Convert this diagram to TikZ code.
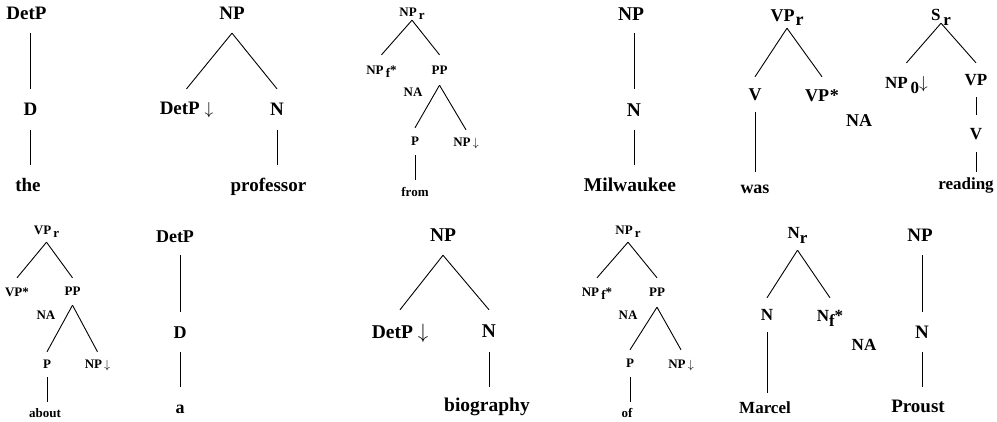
\documentclass[tikz,border=0pt]{standalone}
\usepackage{fontspec}
\setmainfont{Liberation Serif}
\newcommand{\lo}[1]{\raisebox{-0.25em}{#1}}
\newcommand{\dn}{$\downarrow$}
\tikzset{
  lab/.style={inner xsep=0.5pt, text depth=0pt, anchor=center},
  fA/.style={lab, font=\fontsize{19}{19}\selectfont\bfseries, text height=12.9pt},
  fB/.style={lab, font=\fontsize{19.5}{19.5}\selectfont\bfseries, text height=13.3pt},
  fC/.style={lab, font=\fontsize{18}{18}\selectfont\bfseries, text height=12.2pt},
  fD/.style={lab, font=\fontsize{17}{17}\selectfont\bfseries, text height=11.6pt},
  fE/.style={lab, font=\fontsize{13}{13}\selectfont\bfseries, text height=8.8pt},
  yg/.style={inner ysep=#1},
  branch/.style={draw=black, line width=0.9pt},
}
\begin{document}
\begin{tikzpicture}[x=1pt, y=-1pt]
\useasboundingbox (0,0) rectangle (997,421);
% Tree 1
\node[fA, yg=13.5] (t1r) at (26.5,13) {DetP};
\node[fA, yg=14] (t1d) at (30.5,109.5) {D};
\node[fA, yg=13.5] (t1w) at (28,185) {the};
\draw[branch] (t1d.north |- t1r.south) -- (t1d.north);
\draw[branch] (t1d.south) -- (t1d.south |- t1w.north);
% Tree 2
\node[fA, yg=13] (t2r) at (232,13.5) {NP};
\node[fA, yg=12.5] (t2a) at (186.5,108) {DetP \dn};
\node[fA, yg=14] (t2n) at (277,109.5) {N};
\node[fA, yg=13.5] (t2w) at (268.5,185) {professor};
\draw[branch] (t2r.south) -- (t2a.north);
\draw[branch] (t2r.south) -- (t2n.north);
\draw[branch] (t2n.south) -- (t2n.south |- t2w.north);
% Tree 3
\node[fE, yg=3.6] (t3r) at (412,12) {NP\,\lo{r}};
\node[fE, yg=10.6] (t3a) at (381.5,70) {NP\,\lo{f}*};
\node[fE, yg=10.6] (t3b) at (439.5,70) {PP};
\node[fE] (t3na) at (413,92) {NA};
\node[fE, yg=9.1] (t3p) at (415,141.5) {P};
\node[fE, yg=7.6] (t3c) at (466,142) {NP\,\dn};
\node[fE, yg=7.6] (t3w) at (415,192) {from};
\draw[branch] (t3r.south) -- (t3a.north);
\draw[branch] (t3r.south) -- (t3b.north);
\draw[branch] (t3b.south) -- (t3p.north);
\draw[branch] (t3b.south) -- (t3c.north);
\draw[branch] (t3p.south) -- (t3p.south |- t3w.north);
% Tree 4
\node[fB, yg=12.4] (t4r) at (631,14) {NP};
\node[fB, yg=13.9] (t4n) at (634,109.5) {N};
\node[fB, yg=12.9] (t4w) at (630,184.5) {Milwaukee};
\draw[branch] (t4n.north |- t4r.south) -- (t4n.north);
\draw[branch] (t4n.south) -- (t4n.south |- t4w.north);
% Tree 5
\node[fC, yg=6.9] (t5r) at (787,15) {VP\kern1pt\lo{r}};
\node[fC, yg=11.4] (t5v) at (755,94.5) {V};
\node[fC, yg=11.9] (t5a) at (822,95) {VP\kern1pt*};
\node[fC] (t5na) at (859,120) {NA};
\node[fC, yg=8.9] (t5w) at (755,187) {was};
\draw[branch] (t5r.south) -- (t5v.north);
\draw[branch] (t5r.south) -- (t5a.north);
\draw[branch] (t5v.south) -- (t5v.south |- t5w.north);
% Tree 6
\node[fD, yg=2.2] (t6r) at (941,15) {S\,\lo{r}};
\node[fD, yg=14.2] (t6a) at (906.5,83) {NP\,\lo{0}\dn};
\node[fD, yg=11.2] (t6b) at (976,80) {VP};
\node[fD, yg=12.7] (t6v) at (976,133.5) {V};
\node[fD, yg=5.7] (t6w) at (966,183.5) {reading};
\draw[branch] (t6r.south) -- (t6a.north);
\draw[branch] (t6r.south) -- (t6b.north);
\draw[branch] (t6b.south) -- (t6v.north);
\draw[branch] (t6v.south) -- (t6v.south |- t6w.north);
% Tree 7
\node[fE, yg=7.6] (t7r) at (46.5,230) {VP\,\lo{r}};
\node[fE, yg=9.6] (t7a) at (17,292) {VP*};
\node[fE, yg=9.1] (t7b) at (72.5,291.5) {PP};
\node[fE] (t7na) at (46,315) {NA};
\node[fE, yg=8.1] (t7p) at (47,364.5) {P};
\node[fE, yg=7.6] (t7c) at (97.5,364) {NP\,\dn};
\node[fE, yg=6.6] (t7w) at (45,413) {about};
\draw[branch] (t7r.south) -- (t7a.north);
\draw[branch] (t7r.south) -- (t7b.north);
\draw[branch] (t7b.south) -- (t7p.north);
\draw[branch] (t7b.south) -- (t7c.north);
\draw[branch] (t7p.south) -- (t7p.south |- t7w.north);
% Tree 8
\node[fC, yg=12.9] (t8r) at (175,236) {DetP};
\node[fC, yg=13.9] (t8d) at (180,332) {D};
\node[fC, yg=13.9] (t8w) at (180,407) {a};
\draw[branch] (t8d.north |- t8r.south) -- (t8d.north);
\draw[branch] (t8d.south) -- (t8d.south |- t8w.north);
% Tree 9
\node[fB, yg=13.4] (t9r) at (443,235) {NP};
\node[fB, yg=15.4] (t9a) at (400,332) {DetP \dn};
\node[fB, yg=14.4] (t9n) at (489,331) {N};
\node[fB, yg=11.4] (t9w) at (487,405) {biography};
\draw[branch] (t9r.south) -- (t9a.north);
\draw[branch] (t9r.south) -- (t9n.north);
\draw[branch] (t9n.south) -- (t9n.south |- t9w.north);
% Tree 10
\node[fE, yg=7.6] (t10r) at (628,230) {NP\,\lo{r}};
\node[fE, yg=9.6] (t10a) at (597,292) {NP\,\lo{f}*};
\node[fE, yg=10.1] (t10b) at (657,292.5) {PP};
\node[fE] (t10na) at (628,315) {NA};
\node[fE, yg=9.1] (t10p) at (630,363.5) {P};
\node[fE, yg=9.6] (t10c) at (681,364) {NP\,\dn};
\node[fE, yg=6.6] (t10w) at (627,413) {of};
\draw[branch] (t10r.south) -- (t10a.north);
\draw[branch] (t10r.south) -- (t10b.north);
\draw[branch] (t10b.south) -- (t10p.north);
\draw[branch] (t10b.south) -- (t10c.north);
\draw[branch] (t10p.south) -- (t10p.south |- t10w.north);
% Tree 11
\node[fD, yg=11.2] (t11r) at (797.5,233) {N\lo{r}};
\node[fD, yg=11.2] (t11a) at (767,315) {N};
\node[fD, yg=12.2] (t11b) at (830,316) {N\lo{f}*};
\node[fD] (t11na) at (864,345) {NA};
\node[fD, yg=8.7] (t11w) at (765,407.5) {Marcel};
\draw[branch] (t11r.south) -- (t11a.north);
\draw[branch] (t11r.south) -- (t11b.north);
\draw[branch] (t11a.south) -- (t11a.south |- t11w.north);
% Tree 12
\node[fA, yg=13.5] (t12r) at (920,235) {NP};
\node[fA, yg=13.5] (t12n) at (922,332) {N};
\node[fA, yg=13] (t12w) at (918,406.5) {Proust};
\draw[branch] (t12n.north |- t12r.south) -- (t12n.north);
\draw[branch] (t12n.south) -- (t12n.south |- t12w.north);
\end{tikzpicture}
\end{document}
